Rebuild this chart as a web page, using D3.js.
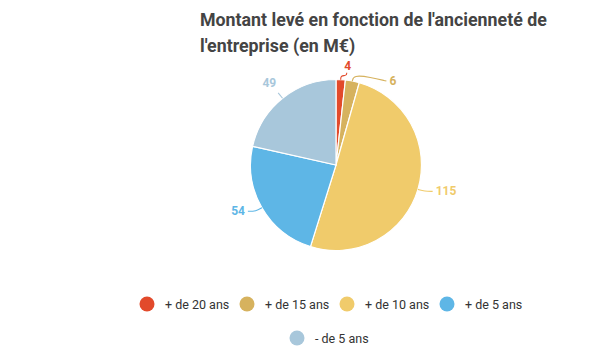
<!DOCTYPE html>
<html><head><meta charset="utf-8">
<script src="https://cdn.jsdelivr.net/npm/d3@7"></script>
<style>body{margin:0;background:#fff;font-family:Roboto,"Open Sans",sans-serif;}</style>
</head><body>
<svg id="c" width="589" height="355"></svg>
<script>
const categories = ["+ de 20 ans", "+ de 15 ans", "+ de 10 ans", "+ de 5 ans", "- de 5 ans"];
const values = [4, 6, 115, 54, 49];
const colors = ["#E24A2B", "#D6B25E", "#F0CB6B", "#5EB6E6", "#A8C7DB"];
const titleLines = ["Montant levé en fonction de l'ancienneté de", "l'entreprise (en M€)"];

const svg = d3.select("#c");
svg.append("rect").attr("width",589).attr("height",355).attr("fill","#fff");

svg.selectAll("text.title").data(titleLines).join("text")
  .attr("class","title").attr("x",200).attr("y",(d,i)=>26+i*26)
  .attr("font-size",17.8).attr("font-weight",700).attr("fill","#444")
  .text(d=>d);

const cx=336, cy=165, r=85.5;
const g = svg.append("g").attr("transform",`translate(${cx},${cy})`);
const pie = d3.pie().sort(null).value(d=>d)(values);
const arc = d3.arc().innerRadius(0).outerRadius(r);
g.selectAll("path").data(pie).join("path")
  .attr("d",arc).attr("fill",(d,i)=>colors[i]).attr("stroke","#fff").attr("stroke-width",1.2);

function pt(a, rad){ return [Math.sin(a)*rad, -Math.cos(a)*rad]; }
const lineG = g.append("g");
pie.forEach((d,i)=>{
  const a=(d.startAngle+d.endAngle)/2;
  const p0=pt(a,r), p1=pt(a,r+7);
  let pts, lx, ly, anchor;
  if(i===0){
    pts=[p0,[p0[0],p0[1]-4],[p0[0]+6,p0[1]-4],[p0[0]+6,p0[1]-7]];
    lx=p0[0]+7; ly=p0[1]-10; anchor="middle";
  } else if(i===1){
    pts=[p0,[p0[0]+1,p0[1]-6],[p0[0]+18,p0[1]-4],[p0[0]+34,p0[1]]];
    lx=p0[0]+37; ly=p0[1]+4; anchor="start";
  } else {
    const s=Math.sin(a);
    const dir = s>0?1:-1;
    const p2=[p1[0]+dir*8,p1[1]];
    if(Math.abs(s)>0.7){ pts=[p0,p1,p2]; lx=p2[0]+dir*3; ly=p2[1]+4; anchor=dir>0?"start":"end"; }
    else { pts=[p0,p1]; const p3=pt(a,r+18); lx=p3[0]-2; ly=p3[1]+3; anchor="middle"; }
  }
  lineG.append("path").attr("d",d3.line().curve(d3.curveBasis)(pts))
    .attr("fill","none").attr("stroke",colors[i]).attr("stroke-width",1.1);
  g.append("text").attr("x",lx).attr("y",ly).attr("text-anchor",anchor)
    .attr("font-size",12).attr("font-weight",700).attr("fill",colors[i]).text(values[i]);
});

const legendPos = [[147,304],[247,304],[347,304],[447,304],[297,338]];
const lg = svg.append("g");
categories.forEach((c,i)=>{
  const [x,y]=legendPos[i];
  lg.append("circle").attr("cx",x).attr("cy",y).attr("r",7.5).attr("fill",colors[i]);
  lg.append("text").attr("x",x+18).attr("y",y+4.5).attr("font-size",12.5).attr("fill","#333").text(c);
});
</script>
</body></html>
